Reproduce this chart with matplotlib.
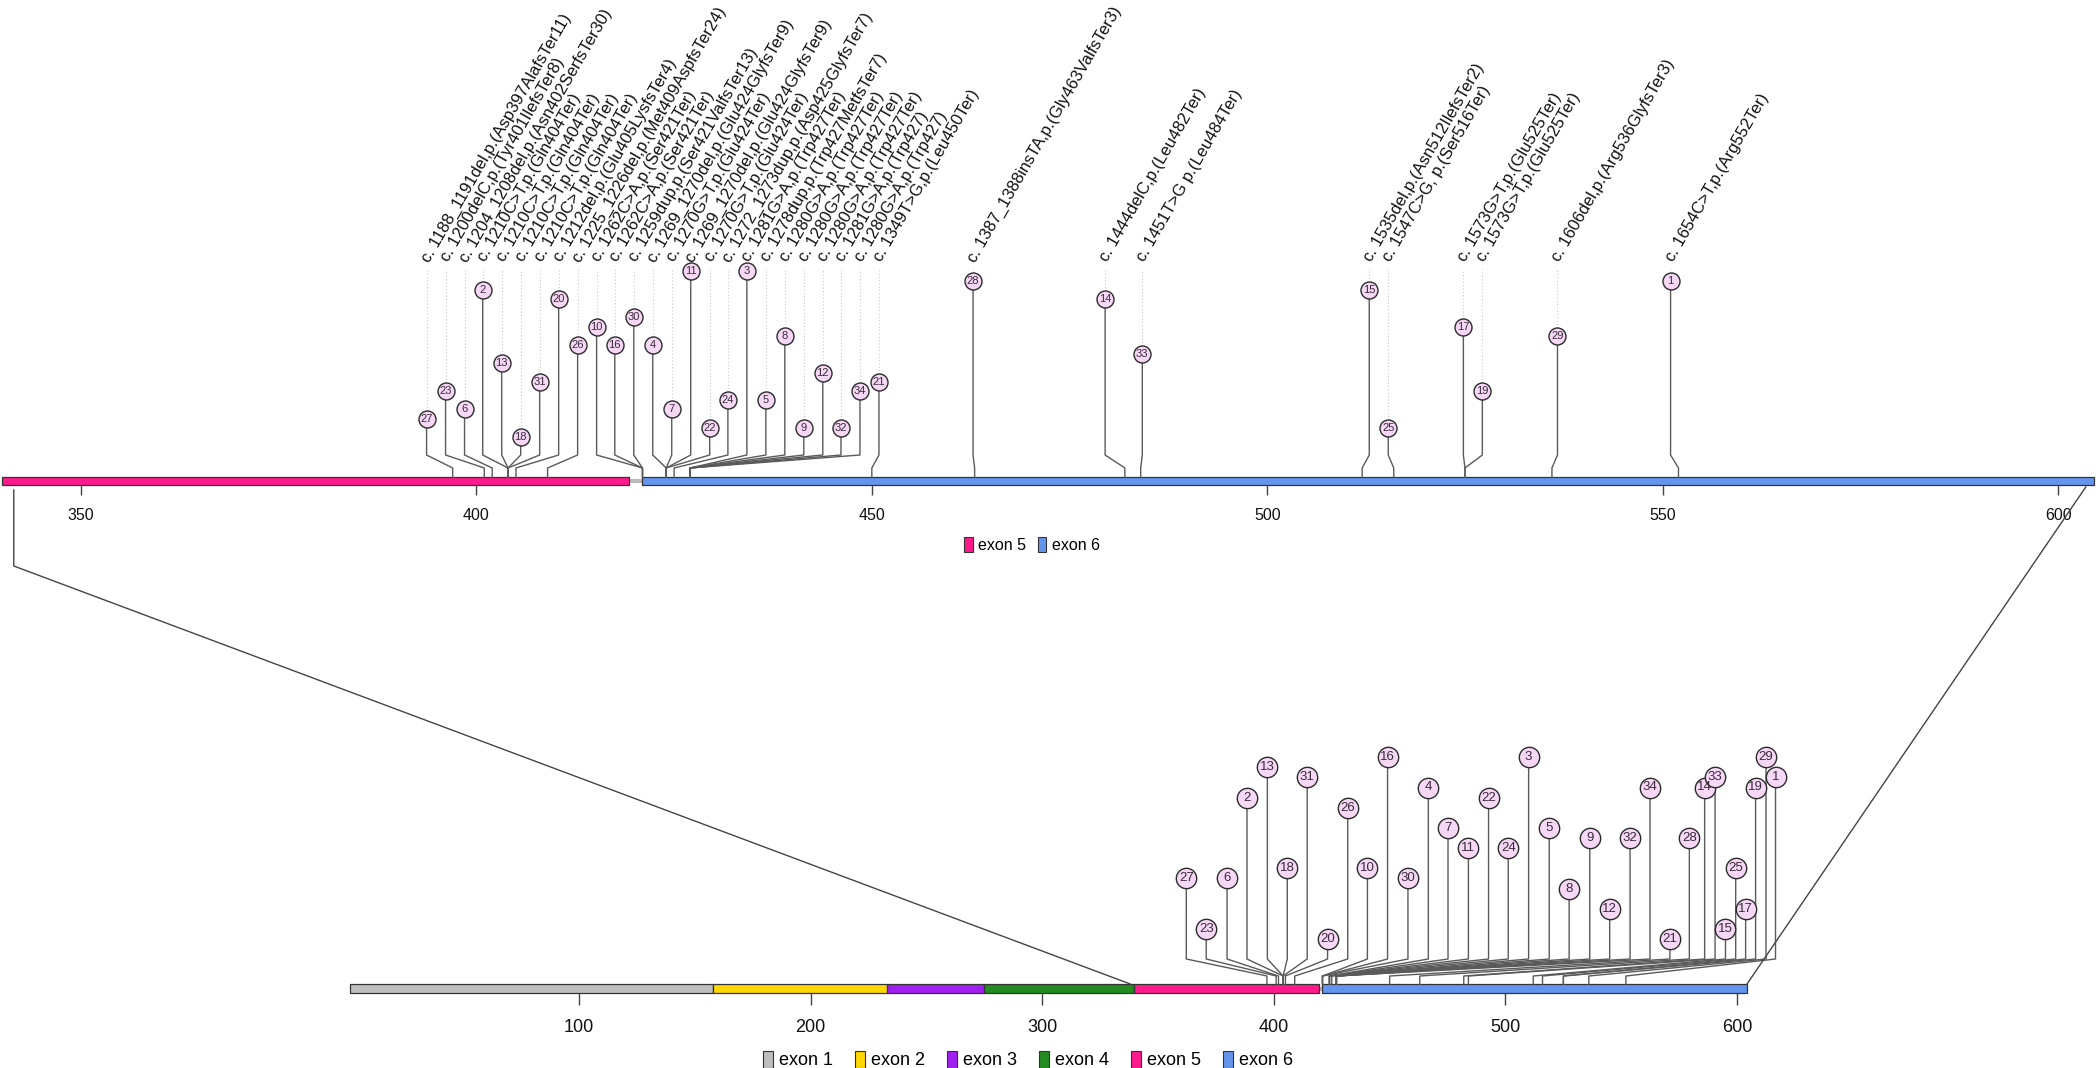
import numpy as np
import matplotlib.pyplot as plt
from matplotlib.patches import Rectangle, Patch
from matplotlib.lines import Line2D

plt.rcParams['font.family'] = ['Liberation Sans', 'DejaVu Sans']

# variants, in the order they are drawn (left to right)
labels = [
    "c. 1188_1191del,p.(Asp397AlafsTer11)",
    "c. 1200delC,p.(Tyr401IlefsTer8)",
    "c. 1204_1208del,p.(Asn402SerfsTer30)",
    "c. 1210C>T,p.(Gln404Ter)",
    "c. 1210C>T,p.(Gln404Ter)",
    "c. 1210C>T,p.(Gln404Ter)",
    "c. 1210C>T,p.(Gln404Ter)",
    "c. 1212del,p.(Glu405LysfsTer4)",
    "c. 1225_1226del,p.(Met409AspfsTer24)",
    "c. 1262C>A,p.(Ser421Ter)",
    "c. 1262C>A,p.(Ser421Ter)",
    "c. 1259dup,p.(Ser421ValfsTer13)",
    "c. 1269_1270del,p.(Glu424GlyfsTer9)",
    "c. 1270G>T,p.(Glu424Ter)",
    "c. 1269_1270del,p.(Glu424GlyfsTer9)",
    "c. 1270G>T,p.(Glu424Ter)",
    "c. 1272_1273dup,p.(Asp425GlyfsTer7)",
    "c. 1281G>A,p.(Trp427Ter)",
    "c. 1278dup,p.(Trp427MetfsTer7)",
    "c. 1280G>A,p.(Trp427Ter)",
    "c. 1280G>A,p.(Trp427Ter)",
    "c. 1280G>A,p.(Trp427Ter)",
    "c. 1281G>A,p.(Trp427)",
    "c. 1280G>A,p.(Trp427)",
    "c. 1349T>G,p.(Leu450Ter)",
    "c. 1387_1388insTA,p.(Gly463ValfsTer3)",
    "c. 1444delC,p.(Leu482Ter)",
    "c. 1451T>G p.(Leu484Ter)",
    "c. 1535del,p.(Asn512IlefsTer2)",
    "c. 1547C>G, p.(Ser516Ter)",
    "c. 1573G>T,p.(Glu525Ter)",
    "c. 1573G>T,p.(Glu525Ter)",
    "c. 1606del,p.(Arg536GlyfsTer3)",
    "c. 1654C>T,p.(Arg552Ter)",
]
aa_pos = [397, 401, 402, 404, 404, 404, 404, 405, 409, 421, 421, 421, 424, 424, 424, 424, 425,
          427, 427, 427, 427, 427, 427, 427, 450, 463, 482, 484, 512, 516, 525, 525, 536, 552]
ids = [27, 23, 6, 2, 13, 18, 31, 20, 26, 10, 16, 30, 4, 7, 11, 22, 24,
       3, 5, 8, 9, 12, 32, 34, 21, 28, 14, 33, 15, 25, 17, 19, 29, 1]

# lollipop heights (score levels) in the zoomed and the full view
score_zoom = [3, 6, 4, 17, 9, 1, 7, 16, 11, 13, 11, 14, 11, 4, 19, 2, 5,
              19, 5, 12, 2, 8, 2, 6, 7, 18, 16, 10, 17, 2, 13, 6, 12, 18]
score_full = [7, 2, 7, 15, 18, 8, 17, 1, 14, 8, 19, 7, 16, 12, 10, 15, 10,
              19, 12, 6, 11, 4, 11, 16, 1, 11, 16, 17, 2, 8, 4, 16, 19, 17]

# where the heads end up after the labels are spread out
head_zoom = [393.7, 396.1, 398.5, 400.8, 403.2, 405.6, 408.0, 410.4, 412.8, 415.2, 417.5,
             419.9, 422.3, 424.7, 427.1, 429.5, 431.8, 434.2, 436.6, 439.0, 441.4, 443.8,
             446.1, 448.5, 450.9, 462.8, 479.5, 484.2, 512.9, 515.3, 524.8, 527.2, 536.7, 551.0]
head_full = [362.2, 370.8, 379.8, 388.4, 397.2, 405.8, 414.4, 423.2, 431.9, 440.4, 449.1,
             457.9, 466.7, 475.2, 484.0, 492.7, 501.2, 510.0, 518.9, 527.5, 536.4, 545.0,
             553.8, 562.4, 571.0, 579.4, 586.0, 590.5, 595.0, 599.4, 603.7, 608.0, 612.5, 616.6]

exon_names = ["exon 1", "exon 2", "exon 3", "exon 4", "exon 5", "exon 6"]
exon_start = [1, 158, 233, 275, 339.5, 421]
exon_end = [158, 233, 275, 339.5, 419.3, 604.5]
exon_colors = ["#BEBEBE", "#FFD700", "#A020F0", "#228B22", "#FF1A8C", "#6495ED"]

zoom_from, zoom_to = 340, 604.5
zoom_ticks = [350, 400, 450, 500, 550, 600]
full_ticks = [100, 200, 300, 400, 500, 600]

W, H = 2100, 1068
fig = plt.figure(figsize=(W / 100, H / 100), dpi=100)


def px_axes(top_px, bottom_px):
    # one data unit on y = one pixel
    return fig.add_axes([0, 1 - bottom_px / H, 1, (bottom_px - top_px) / H])


ax1 = px_axes(0, 560)
ax1.set_xlim(339.76, 605.3)
ax1.set_ylim(-83, 477)
ax2 = px_axes(560, 1068)
ax2.set_xlim(-150.0, 756.7)
ax2.set_ylim(-84, 424)
for ax in (ax1, ax2):
    ax.axis("off")


def draw_track(ax, lo, hi, bar_h, ticks, tick_len, label_y, legend_xy, fs, colsp):
    ax.plot([lo, hi], [-bar_h / 2, -bar_h / 2], color="#BBBBBB", lw=3, zorder=1,
            solid_capstyle="butt")
    shown = []
    for name, s, e, c in zip(exon_names, exon_start, exon_end, exon_colors):
        s, e = max(s, lo), min(e, hi)
        if e <= s:
            continue
        ax.add_patch(Rectangle((s, -bar_h), e - s, bar_h, facecolor=c,
                               edgecolor="#333333", lw=0.9, zorder=2))
        shown.append(Patch(facecolor=c, edgecolor="#333333", lw=0.8, label=name))
    ax.vlines(ticks, -bar_h - tick_len, -bar_h, color="#444444", lw=1.0)
    for t in ticks:
        ax.text(t, label_y, str(t), ha="center", va="center", fontsize=fs, color="#111111")
    ax.legend(handles=shown, loc="center", bbox_to_anchor=legend_xy, ncol=len(shown),
              frameon=False, fontsize=fs, handlelength=0.55, handleheight=1.1,
              handletextpad=0.35, columnspacing=colsp, borderpad=0)


def draw_lollipops(ax, heads, scores, base, step, knee1, knee2, msize, fsize):
    head_y = base + step * np.asarray(scores)
    for p, h, y in zip(aa_pos, heads, head_y):
        ax.plot([p, p, h, h], [0, knee1, knee2, y], color="#5A5A5A", lw=1.0, zorder=3)
    ax.scatter(heads, head_y, s=msize, facecolor="#F6D8F6", edgecolor="#2B2B2B",
               linewidth=1.0, zorder=4)
    for h, y, n in zip(heads, head_y, ids):
        ax.text(h, y, str(n), ha="center", va="center", fontsize=fsize,
                color="#3A2A3A", zorder=5)
    return head_y


# zoomed view (exons 5-6)
draw_track(ax1, zoom_from, zoom_to, 8, zoom_ticks, 10, -39, (1032 / W, 15 / 560), 11.5, 0.7)
hy = draw_lollipops(ax1, head_zoom, score_zoom, 30.8, 9.2, 9, 22, 150, 8)
for h, y, lab in zip(head_zoom, hy, labels):
    ax1.plot([h, h], [y + 8, 208], color="#C8C8C8", lw=0.8, ls=(0, (1, 2)), zorder=1)
    ax1.text(h + 0.3, 214, lab, rotation=60, rotation_mode="anchor", ha="left",
             va="baseline", fontsize=12, color="#111111")

# full protein
draw_track(ax2, 1, 604.5, 9, full_ticks, 12, -44, (1028 / W, 8 / 508), 13, 1.2)
draw_lollipops(ax2, head_full, score_full, 34.9, 10.1, 8, 25, 215, 9.5)


# connector lines between the two views
def to_fig(ax, x, y):
    return fig.transFigure.inverted().transform(ax.transData.transform((x, y)))


left = [to_fig(ax1, 341.5, -13), to_fig(ax1, 341.5, -89), to_fig(ax2, 338, 0)]
right = [to_fig(ax1, 603.5, -10), to_fig(ax2, 604.3, 0)]
for pts in (left, right):
    pts = np.array(pts)
    fig.add_artist(Line2D(pts[:, 0], pts[:, 1], transform=fig.transFigure,
                          color="#444444", lw=1.0))

fig.savefig("out.png", dpi=100)
